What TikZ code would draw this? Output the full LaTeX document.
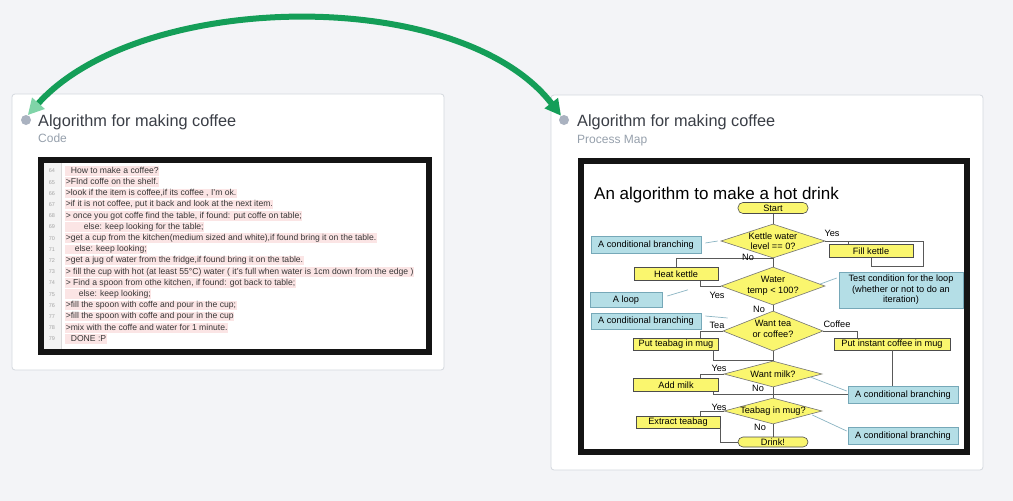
\documentclass[tikz,border=0pt]{standalone}
\usepackage{fontspec}
\setmainfont{Liberation Sans}
\usetikzlibrary{shapes.geometric,arrows.meta}

\definecolor{canvas}{RGB}{243,244,247}
\definecolor{cardedge}{RGB}{212,216,222}
\definecolor{titlegrey}{RGB}{58,62,70}
\definecolor{subgrey}{RGB}{150,160,172}
\definecolor{dotgrey}{RGB}{170,178,192}
\definecolor{linkgreen}{RGB}{20,158,88}
\definecolor{linklight}{RGB}{128,212,168}
\definecolor{codepink}{RGB}{251,229,229}
\definecolor{codetext}{RGB}{55,55,55}
\definecolor{numgrey}{RGB}{165,165,165}
\definecolor{gutter}{RGB}{243,243,243}
\definecolor{flowyellow}{RGB}{250,246,110}
\definecolor{notefill}{RGB}{180,222,230}
\definecolor{notedge}{RGB}{118,168,184}

\begin{document}
\begin{tikzpicture}[x=1pt,y=-1pt,
	card/.style={draw=cardedge,fill=white,rounded corners=3pt,line width=0.8pt,inner sep=0pt,outer sep=0pt,anchor=north west},
	dot/.style={circle,fill=dotgrey,minimum size=10pt,inner sep=0pt},
	cardtitle/.style={anchor=base west,inner sep=0pt,text=titlegrey,font=\fontsize{16.3}{18}\selectfont},
	cardsub/.style={anchor=base west,inner sep=0pt,text=subgrey,font=\fontsize{12}{14}\selectfont},
	shot/.style={draw=black!92,line width=6pt,fill=white,inner sep=0pt,outer sep=0pt,anchor=north west},
	codeline/.style={anchor=west,fill=codepink,inner sep=0.6pt,text height=6.4pt,text depth=2pt,text=codetext,font=\fontsize{8.6}{9}\selectfont},
	lineno/.style={inner sep=0pt,text=numgrey,font=\fontsize{5.5}{6}\selectfont},
	process/.style={draw=black!70,fill=flowyellow,line width=0.6pt,minimum height=13pt,inner sep=0pt,font=\fontsize{9.2}{10}\selectfont},
	decision/.style={diamond,draw=black!55,fill=flowyellow,line width=0.6pt,inner sep=0pt},
	dtext/.style={font=\fontsize{9.2}{10.5}\selectfont,align=center,inner sep=0pt},
	terminal/.style={draw=black!70,fill=flowyellow,rounded corners=5pt,line width=0.6pt,inner sep=0pt,font=\fontsize{9.2}{10}\selectfont},
	note/.style={draw=notedge,fill=notefill,line width=0.6pt,inner sep=0pt,align=center,font=\fontsize{9.2}{10.5}\selectfont},
	flowtag/.style={inner sep=0pt,font=\fontsize{9.2}{10}\selectfont},
	flow/.style={draw=black!65,line width=0.7pt},
	notelink/.style={draw=notedge!85,line width=0.7pt},
	link/.style={draw=linkgreen,line width=6pt}
]
	\fill[canvas] (0,0) rectangle (1013,501);
	\useasboundingbox (0,0) rectangle (1013,501);

	\node[card,minimum width=432pt,minimum height=276pt] (codecard) at (12,94) {};
	\node[card,minimum width=432pt,minimum height=375pt] (mapcard) at (551,95) {};

	\node[dot] (codedot) at (26,120) {};
	\node[dot] (mapdot) at (564,120) {};
	\node[cardtitle] (codetitle) at (38,126) {Algorithm for making coffee};
	\node[cardsub] (codesub) at (38,142) {Code};
	\node[cardtitle] (maptitle) at (577,126) {Algorithm for making coffee};
	\node[cardsub] (mapsub) at (577,143) {Process Map};

	\node[shot,minimum width=388pt,minimum height=192pt] (codeshot) at (41,160) {};
	\fill[gutter] (44,163) rectangle (61,349);
	\draw[black!15] (61,163) -- (61,349);
	\foreach \n/\i/\t [count=\k from 0] in {
		64/5/{How to make a coffee?},
		65/0/{>FInd coffe on the shelf.},
		66/0/{>look if the item is coffee,if its coffee , I'm ok.},
		67/0/{>if it is not coffee, put it back and look at the next item.},
		68/0/{> once you got coffe find the table, if found: put coffe on table;},
		69/18/{else: keep looking for the table;},
		70/0/{>get a cup from the kitchen(medium sized and white),if found bring it on the table.},
		71/9/{else: keep looking;},
		72/0/{>get a jug of water from the fridge,if found bring it on the table.},
		73/0/{> fill the cup with hot (at least 55°C) water ( it's full when water is 1cm down from the edge )},
		74/0/{> Find a spoon from othe kitchen, if found: got back to table;},
		75/13/{else: keep looking;},
		76/0/{>fill the spoon with coffe and pour in the cup;},
		77/0/{>fill the spoon with coffe and pour in the cup},
		78/0/{>mix with the coffe and water for 1 minute.},
		79/5/{DONE :P}}{
		\node[lineno] (no\n) at (52,171+11.2*\k) {\n};
		\node[codeline] (code\n) at (65,171+11.2*\k) {\hspace{\i pt}\t};
	}

	\node[shot,minimum width=386pt,minimum height=291pt] (mapshot) at (581,161) {};
	\node[anchor=base west,inner sep=0pt,font=\fontsize{17}{20}\selectfont] (maphead) at (594,199) {An algorithm to make a hot drink};

	\node[terminal,minimum width=70pt,minimum height=11pt] (start) at (773,208) {Start};
	\node[decision,minimum width=104pt,minimum height=34pt,label={[dtext]center:Kettle water\\level == 0?}] (kettle) at (773,241) {};
	\node[decision,minimum width=104pt,minimum height=38pt,label={[dtext]center:Water\\temp < 100?}] (water) at (773,286) {};
	\node[decision,minimum width=100pt,minimum height=40pt,label={[dtext,yshift=2pt]center:Want tea\\or coffee?}] (teacoffee) at (773,331) {};
	\node[decision,minimum width=98pt,minimum height=26pt,label={[dtext]center:Want milk?}] (wantmilk) at (773,374) {};
	\node[decision,minimum width=98pt,minimum height=26pt,label={[dtext]center:Teabag in mug?}] (teabagq) at (773,411) {};
	\node[process,minimum width=84pt] (fill) at (871,251) {Fill kettle};
	\node[process,minimum width=84pt] (heat) at (676,274) {Heat kettle};
	\node[process,minimum width=85pt,minimum height=12pt] (teabag) at (676,344) {Put teabag in mug};
	\node[process,minimum width=116pt,minimum height=12pt] (coffee) at (892,344) {Put instant coffee in mug};
	\node[process,minimum width=85pt] (milk) at (676,385) {Add milk};
	\node[process,minimum width=84pt,minimum height=12pt] (extract) at (678,422) {Extract teabag};
	\node[terminal,minimum width=70pt,minimum height=10pt] (drink) at (773,442) {Drink!};

	\coordinate (fillturn) at (923,266);
	\coordinate (join) at (773,394);
	\draw[flow] (start.south) -- (kettle.north);
	\draw[flow] (kettle.east) -| ([xshift=-23pt]fill.north);
	\draw[flow] (kettle.east) -| (fillturn) -| (fill.south);
	\draw[flow] (kettle.south) -- (water.north);
	\draw[flow] (kettle.south) -| (heat.north);
	\draw[flow] (water.west) -| ([xshift=24pt]heat.south);
	\draw[flow] (water.south) -- (teacoffee.north);
	\draw[flow] (teacoffee.west) -| ([xshift=24pt]teabag.north);
	\draw[flow] (teacoffee.east) -| ([xshift=-35pt]coffee.north);
	\draw[flow] (teacoffee.south) -- (wantmilk.north);
	\draw[flow] ([xshift=37pt]teabag.south) |- (wantmilk.north);
	\draw[flow] (coffee.south) |- (join);
	\draw[flow] ([xshift=37pt]milk.south) |- (join);
	\draw[flow] (wantmilk.west) -| ([xshift=24pt]milk.north);
	\draw[flow] (wantmilk.south) -- (teabagq.north);
	\draw[flow] (teabagq.west) -| ([xshift=22pt]extract.north);
	\draw[flow] (teabagq.south) -- (drink.north);
	\draw[flow] (extract.south east) |- (drink.west);

	\node[flowtag] (yes1) at (832,233) {Yes};
	\node[flowtag] (no1) at (748,257) {No};
	\node[flowtag] (yes2) at (717,295) {Yes};
	\node[flowtag] (no2) at (759,309) {No};
	\node[flowtag] (tea) at (717,325) {Tea};
	\node[flowtag] (cof) at (837,324) {Coffee};
	\node[flowtag] (yes3) at (719,368) {Yes};
	\node[flowtag] (no3) at (758,388) {No};
	\node[flowtag] (yes4) at (719,407) {Yes};
	\node[flowtag] (no4) at (760,427) {No};

	\node[note,minimum width=110pt,minimum height=17pt] (note1) at (646,245) {A conditional branching};
	\node[note,minimum width=72pt,minimum height=15pt] (note2) at (626,300) {A loop};
	\node[note,minimum width=110pt,minimum height=16pt] (note3) at (646,321) {A conditional branching};
	\node[note,minimum width=124pt,minimum height=36pt] (note4) at (901,290) {Test condition for the loop\\(whether or not to do an\\iteration)};
	\node[note,minimum width=110pt,minimum height=17pt] (note5) at (903,395) {A conditional branching};
	\node[note,minimum width=110pt,minimum height=17pt] (note6) at (903,436) {A conditional branching};
	\draw[notelink] ([xshift=4pt,yshift=2pt]note1.east) -- ([xshift=-3pt]kettle.west);
	\draw[notelink] ([xshift=5pt,yshift=4pt]note2.east) -- ([xshift=12pt,yshift=-9pt]heat.south);
	\draw[notelink] ([xshift=4pt,yshift=5pt]note3.east) -- ([xshift=5pt,yshift=13pt]teacoffee.west);
	\draw[notelink] ([xshift=-2pt,yshift=12pt]note4.west) -- ([xshift=-5pt,yshift=2pt]water.east);
	\draw[notelink] ([xshift=-1pt,yshift=4pt]note5.west) -- ([xshift=-12pt,yshift=-3pt]wantmilk.east);
	\draw[notelink] ([xshift=-1pt,yshift=5pt]note6.west) -- ([xshift=-10pt,yshift=-4pt]teabagq.east);

	\draw[link,{Triangle[length=16pt,width=16pt,color=linklight]}-{Triangle[length=16pt,width=16pt]}] (codedot.70) .. controls (140,-10) and (460,-15) .. (mapdot.125);
\end{tikzpicture}
\end{document}
